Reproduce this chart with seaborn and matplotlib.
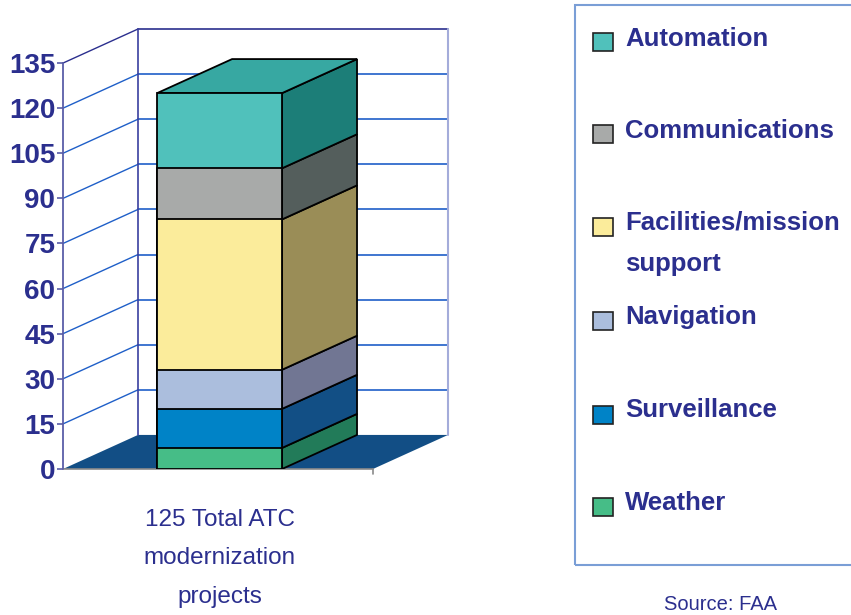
import matplotlib
matplotlib.use("Agg")
import matplotlib.pyplot as plt
import seaborn as sns
import pandas as pd
import numpy as np
from matplotlib.patches import Polygon, Rectangle

# ---- data ----
categories = ["125 Total ATC\nmodernization\nprojects"]
series = ["Weather", "Surveillance", "Navigation", "Facilities/mission\nsupport",
          "Communications", "Automation"]
values = [7, 13, 13, 50, 17, 25]
yticks = [0, 15, 30, 45, 60, 75, 90, 105, 120, 135]

front_colors = ["#46BD87", "#0083C7", "#ABBEDD", "#FBEC9B", "#A8AAA9", "#50C1BB"]
side_colors = ["#227B59", "#124F85", "#717693", "#9A8D57", "#545E5C", "#1C7E78"]
top_color = "#37A8A2"

NAVY = "#2B2F8E"
GRID = "#1F5FC8"

sns.set_style("white")
plt.rcParams["font.family"] = ["Liberation Sans", "DejaVu Sans"]

fig = plt.figure(figsize=(8.51, 6.15), dpi=100)
W, H = 851, 615
ax = fig.add_axes([63 / W, (H - 469) / H, 385 / W, 440 / H])

DX, DY = 0.242, 11.33          # pseudo-3D depth offset (data units)
X0, X1 = -0.505, 0.495         # front floor extent
BW = 0.403                     # bar width
YMAX = yticks[-1]

# floor
ax.add_patch(Polygon([(X0, 0), (X1, 0), (X1 + DX, DY), (X0 + DX, DY)],
                     closed=True, facecolor="#124E85", edgecolor="none", zorder=0.5))
ax.plot([X0, X1], [0, 0], color="#8A8A8A", lw=1.2, zorder=0.6, clip_on=False)
ax.plot([X1, X1], [0, -1.6], color="#8A8A8A", lw=1.2, zorder=0.6, clip_on=False)

# walls / gridlines
for v in yticks[1:]:
    c = NAVY if v == YMAX else GRID
    ax.plot([X0 + DX, X1 + DX], [v + DY, v + DY], color=c, lw=1.2, zorder=0.7, clip_on=False)
    ax.plot([X0, X0 + DX], [v, v + DY], color=c, lw=1.0, zorder=0.7, clip_on=False)
ax.plot([X0 + DX, X0 + DX], [DY, YMAX + DY], color="#3A40A0", lw=1.2, zorder=0.7, clip_on=False)
ax.plot([X1 + DX, X1 + DX], [DY, YMAX + DY], color="#A4ACDA", lw=1.5, zorder=0.7, clip_on=False)
ax.plot([X0, X0], [0, YMAX], color="#5A5EA8", lw=1.3, zorder=0.8, clip_on=False)

# stacked bar fronts via seaborn (cumulative overlays, tallest first)
cum = np.cumsum(values)
for i in range(len(values) - 1, -1, -1):
    df = pd.DataFrame({"cat": categories, "val": [cum[i]]})
    sns.barplot(data=df, x="cat", y="val", color=front_colors[i], saturation=1,
                width=BW, edgecolor="black", linewidth=1.3, ax=ax, zorder=3)

# side faces and top
xr = BW / 2
xl = -BW / 2
bottoms = np.concatenate([[0], cum[:-1]])
for b, t, c in zip(bottoms, cum, side_colors):
    ax.add_patch(Polygon([(xr, b), (xr + DX, b + DY), (xr + DX, t + DY), (xr, t)],
                         closed=True, facecolor=c, edgecolor="black", lw=1.3, zorder=2.5))
T = cum[-1]
ax.add_patch(Polygon([(xl, T), (xl + DX, T + DY), (xr + DX, T + DY), (xr, T)],
                     closed=True, facecolor=top_color, edgecolor="black", lw=1.3, zorder=2.5))

ax.set_xlim(X0, X1 + DX)
ax.set_ylim(0, YMAX + DY)
ax.set_xlabel("")
ax.set_ylabel("")
for s in ax.spines.values():
    s.set_visible(False)
ax.set_yticks(yticks)
ax.set_yticklabels([str(v) for v in yticks])
ax.tick_params(axis="y", length=4.5, width=1.2, color="#5A5EA8", pad=1,
               labelsize=20, labelcolor=NAVY, left=True)
for lbl in ax.get_yticklabels():
    lbl.set_fontweight("bold")
ax.tick_params(axis="x", length=0, pad=29, labelsize=17.5, labelcolor=NAVY)
for lbl in ax.get_xticklabels():
    lbl.set_linespacing(1.95)
    lbl.set_multialignment("center")
ax.patch.set_alpha(0)

# legend (manual box)
fig.patches.append(Rectangle((575 / W, (H - 565) / H), 300 / W, 560 / H,
                             transform=fig.transFigure, facecolor="none",
                             edgecolor="#7A9ED6", lw=1.5))
ty = {0: 503, 1: 410, 2: 317, 3: 223, 4: 131, 5: 39}
sy = {0: 507, 1: 415, 2: 321, 3: 227, 4: 134, 5: 42}
for i in range(len(series) - 1, -1, -1):
    fig.patches.append(Rectangle((593 / W, (H - sy[i] - 9) / H), 20 / W, 18 / H,
                                 transform=fig.transFigure, facecolor=front_colors[i],
                                 edgecolor="#222222", lw=1.2))
    lab = series[i]
    lines = lab.split("\n")
    fig.text(625 / W, (H - ty[i]) / H, lines[0], ha="left", va="center", fontsize=18.5,
             fontweight="bold", color=NAVY)
    if len(lines) > 1:
        fig.text(625 / W, (H - 264) / H, lines[1], ha="left", va="center", fontsize=18.5,
                 fontweight="bold", color=NAVY)

fig.text(720 / W, 1 / H, "Source: FAA", ha="center", va="bottom",
         fontsize=14.5, color=NAVY)

fig.savefig("out.png", dpi=100)
